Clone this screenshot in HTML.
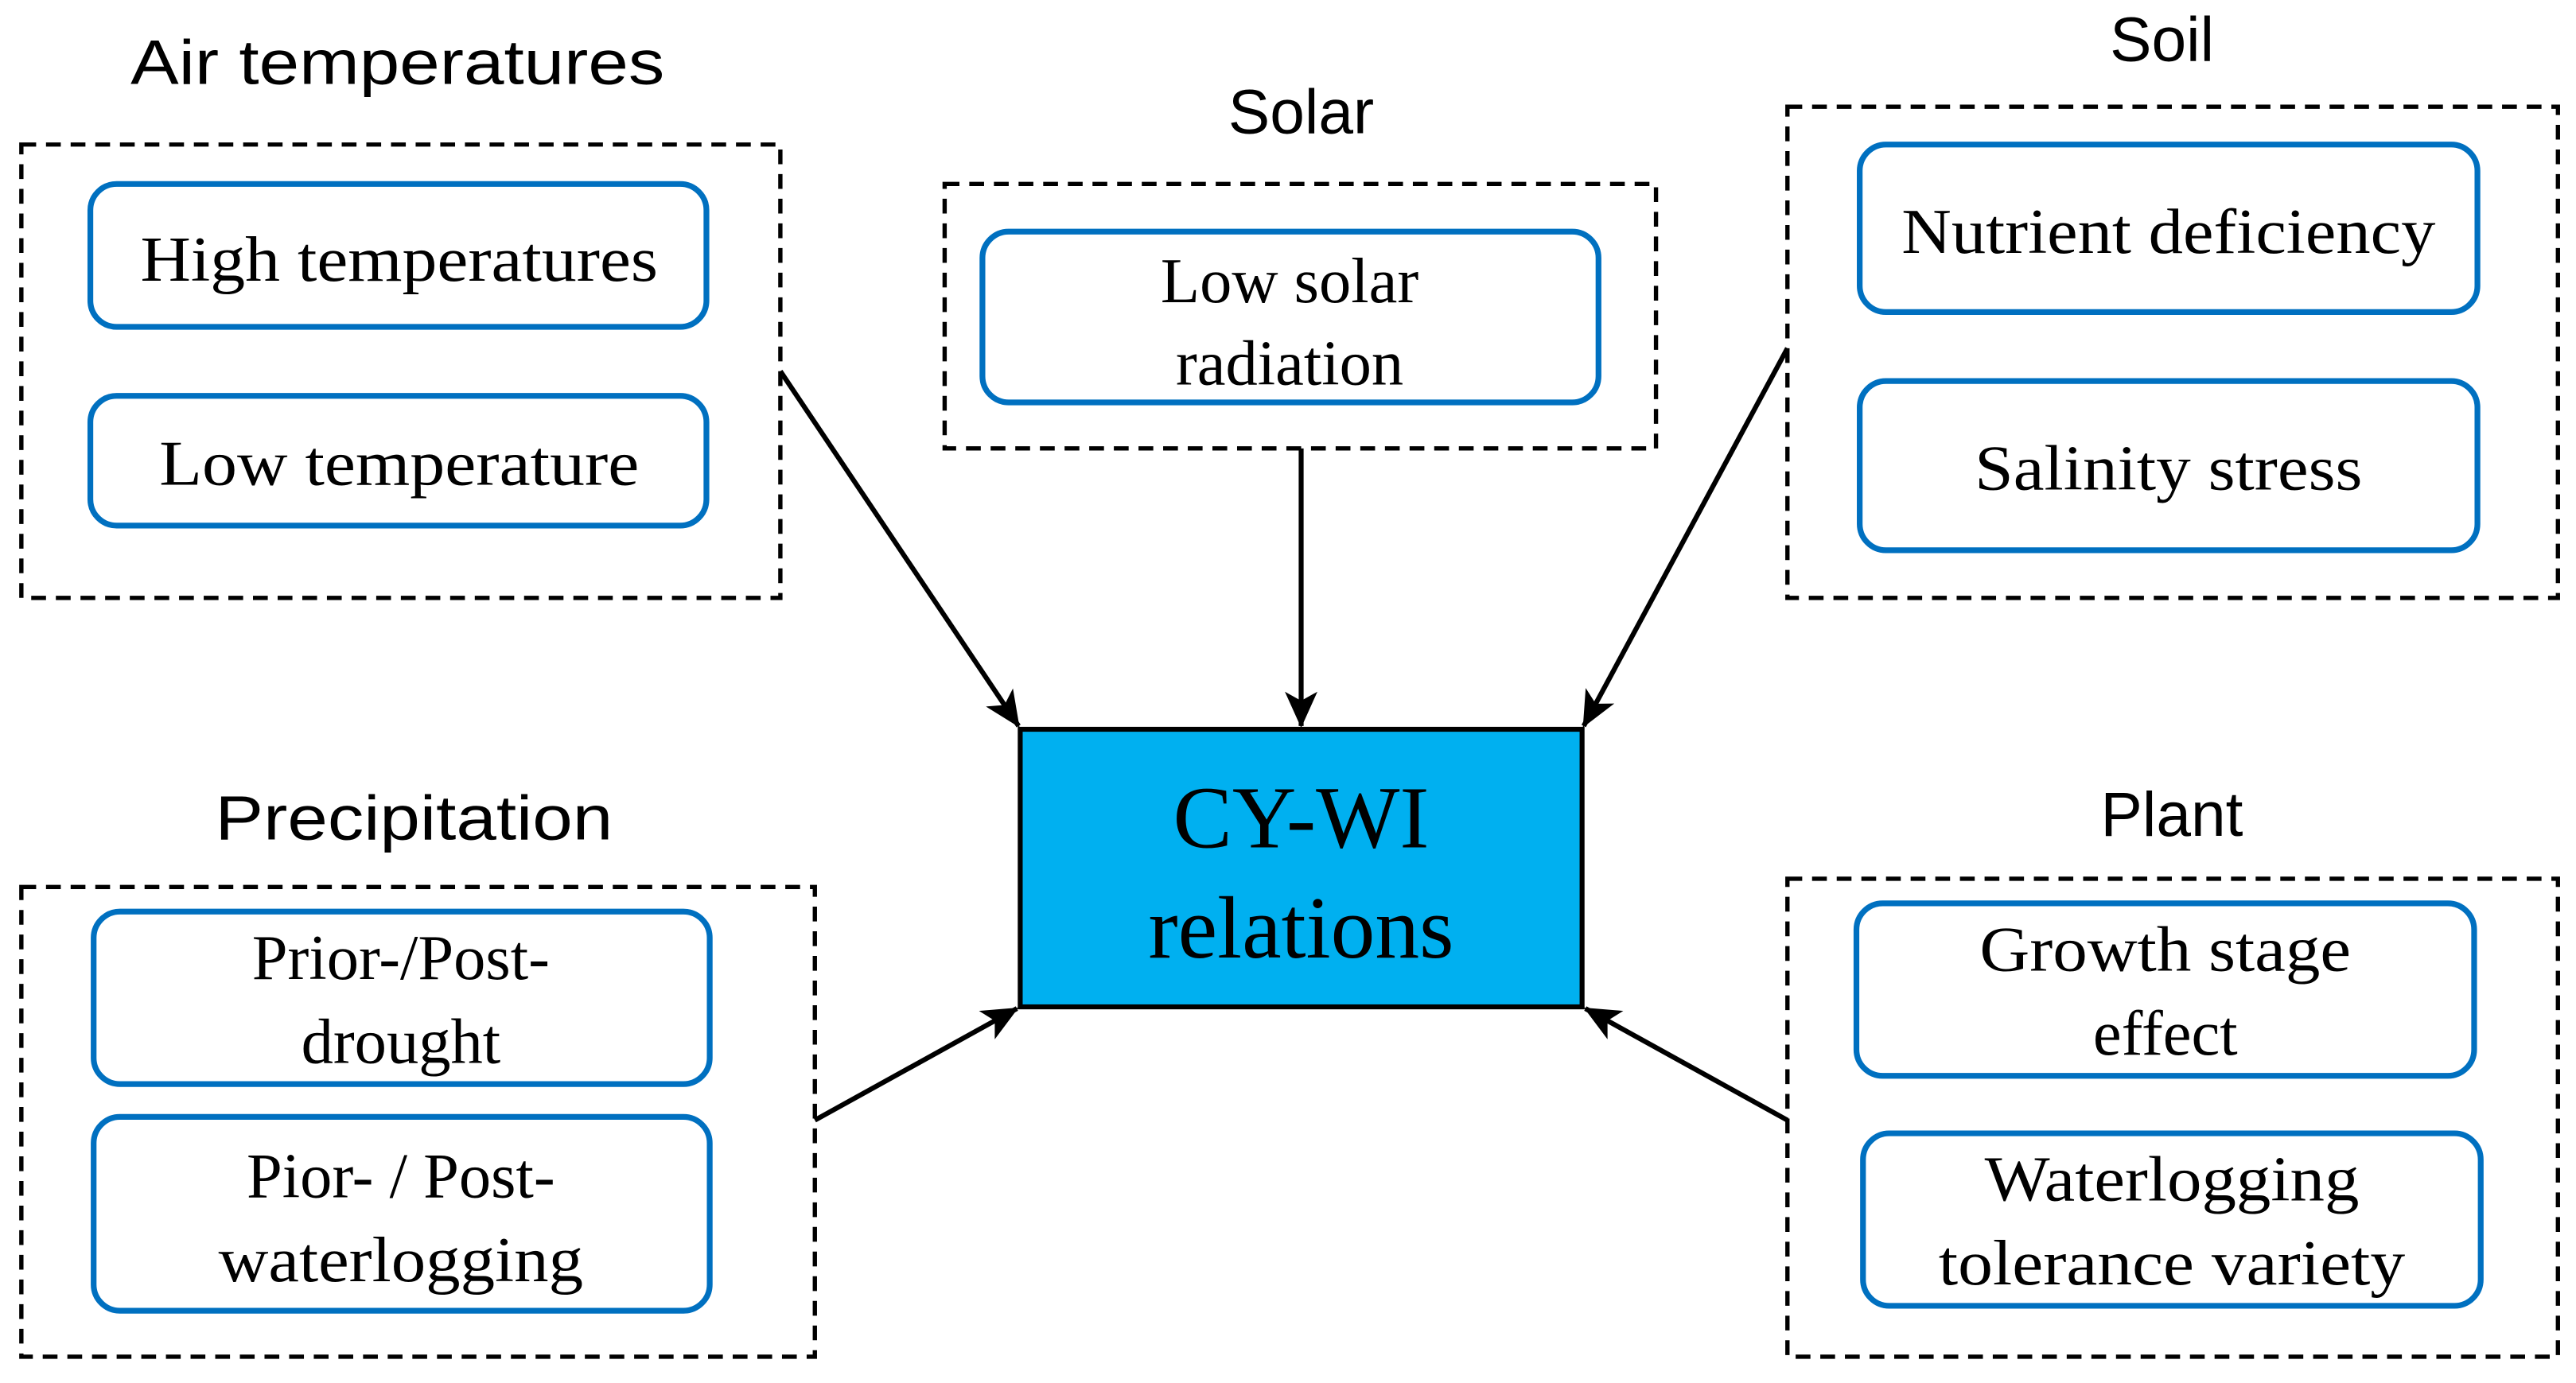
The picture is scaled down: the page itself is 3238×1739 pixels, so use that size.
<!DOCTYPE html>
<html><head><meta charset="utf-8"><style>html,body{margin:0;padding:0;background:#fff}svg{display:block}</style></head>
<body>
<svg width="3238" height="1739" viewBox="0 0 1568 842" preserveAspectRatio="none" xmlns="http://www.w3.org/2000/svg">
<defs>
<marker id="a" viewBox="0 0 20 20" refX="19" refY="10" markerWidth="22" markerHeight="22" markerUnits="userSpaceOnUse" orient="auto">
<path d="M0,1 L20,10 L0,19 L5,10 Z" fill="#000"/>
</marker>
</defs>
<g fill="none" stroke="#000" stroke-width="2.6" stroke-dasharray="9,6">
<rect x="13" y="88" width="462" height="276"/>
<rect x="575" y="112" width="433" height="161"/>
<rect x="1088" y="65" width="469" height="299"/>
<rect x="13" y="540" width="483" height="286"/>
<rect x="1088" y="535" width="469" height="291"/>
</g>
<g fill="#fff" stroke="#0070C0" stroke-width="3.5">
<rect x="55" y="112" width="375" height="87" rx="16"/>
<rect x="55" y="241" width="375" height="79" rx="16"/>
<rect x="598" y="141" width="375" height="104" rx="16"/>
<rect x="1132" y="88" width="376" height="102" rx="16"/>
<rect x="1132" y="232" width="376" height="103" rx="16"/>
<rect x="57" y="555" width="375" height="105" rx="16"/>
<rect x="57" y="680" width="375" height="118" rx="16"/>
<rect x="1130" y="550" width="376" height="105" rx="16"/>
<rect x="1134" y="690" width="376" height="105" rx="16"/>
</g>
<rect x="621" y="444" width="342" height="169" fill="#00B0F0" stroke="#000" stroke-width="3"/>
<g stroke="#000" stroke-width="3" marker-end="url(#a)">
<line x1="475" y1="226" x2="620" y2="442"/>
<line x1="792" y1="273" x2="792" y2="442"/>
<line x1="1088" y1="212" x2="964" y2="442"/>
<line x1="496" y1="682" x2="619" y2="614"/>
<line x1="1088" y1="682" x2="965" y2="614"/>
</g>
<g font-family="Liberation Sans, sans-serif" font-size="38" fill="#000" text-anchor="middle">
<text x="242" y="51" textLength="325" lengthAdjust="spacingAndGlyphs">Air temperatures</text>
<text x="792" y="81">Solar</text>
<text x="1316" y="37">Soil</text>
<text x="252" y="511" textLength="242" lengthAdjust="spacingAndGlyphs">Precipitation</text>
<text x="1322" y="509">Plant</text>
</g>
<g font-family="Liberation Serif, serif" font-size="39" fill="#000" text-anchor="middle">
<text x="243" y="171" textLength="315" lengthAdjust="spacingAndGlyphs">High temperatures</text>
<text x="243" y="295" textLength="292" lengthAdjust="spacingAndGlyphs">Low temperature</text>
<text x="785" y="184">Low solar</text>
<text x="785" y="234">radiation</text>
<text x="1320" y="154" textLength="325" lengthAdjust="spacingAndGlyphs">Nutrient deficiency</text>
<text x="1320" y="298" textLength="236" lengthAdjust="spacingAndGlyphs">Salinity stress</text>
<text x="244" y="596">Prior-/Post-</text>
<text x="244" y="647">drought</text>
<text x="244" y="729">Pior- / Post-</text>
<text x="244" y="780" textLength="222" lengthAdjust="spacingAndGlyphs">waterlogging</text>
<text x="1318" y="591" textLength="226" lengthAdjust="spacingAndGlyphs">Growth stage</text>
<text x="1318" y="642">effect</text>
<text x="1322" y="731" textLength="228" lengthAdjust="spacingAndGlyphs">Waterlogging</text>
<text x="1322" y="782" textLength="284" lengthAdjust="spacingAndGlyphs">tolerance variety</text>
</g>
<g font-family="Liberation Serif, serif" font-size="54" fill="#000" text-anchor="middle">
<text x="792" y="516">CY-WI</text>
<text x="792" y="583">relations</text>
</g>
</svg>
</body></html>
